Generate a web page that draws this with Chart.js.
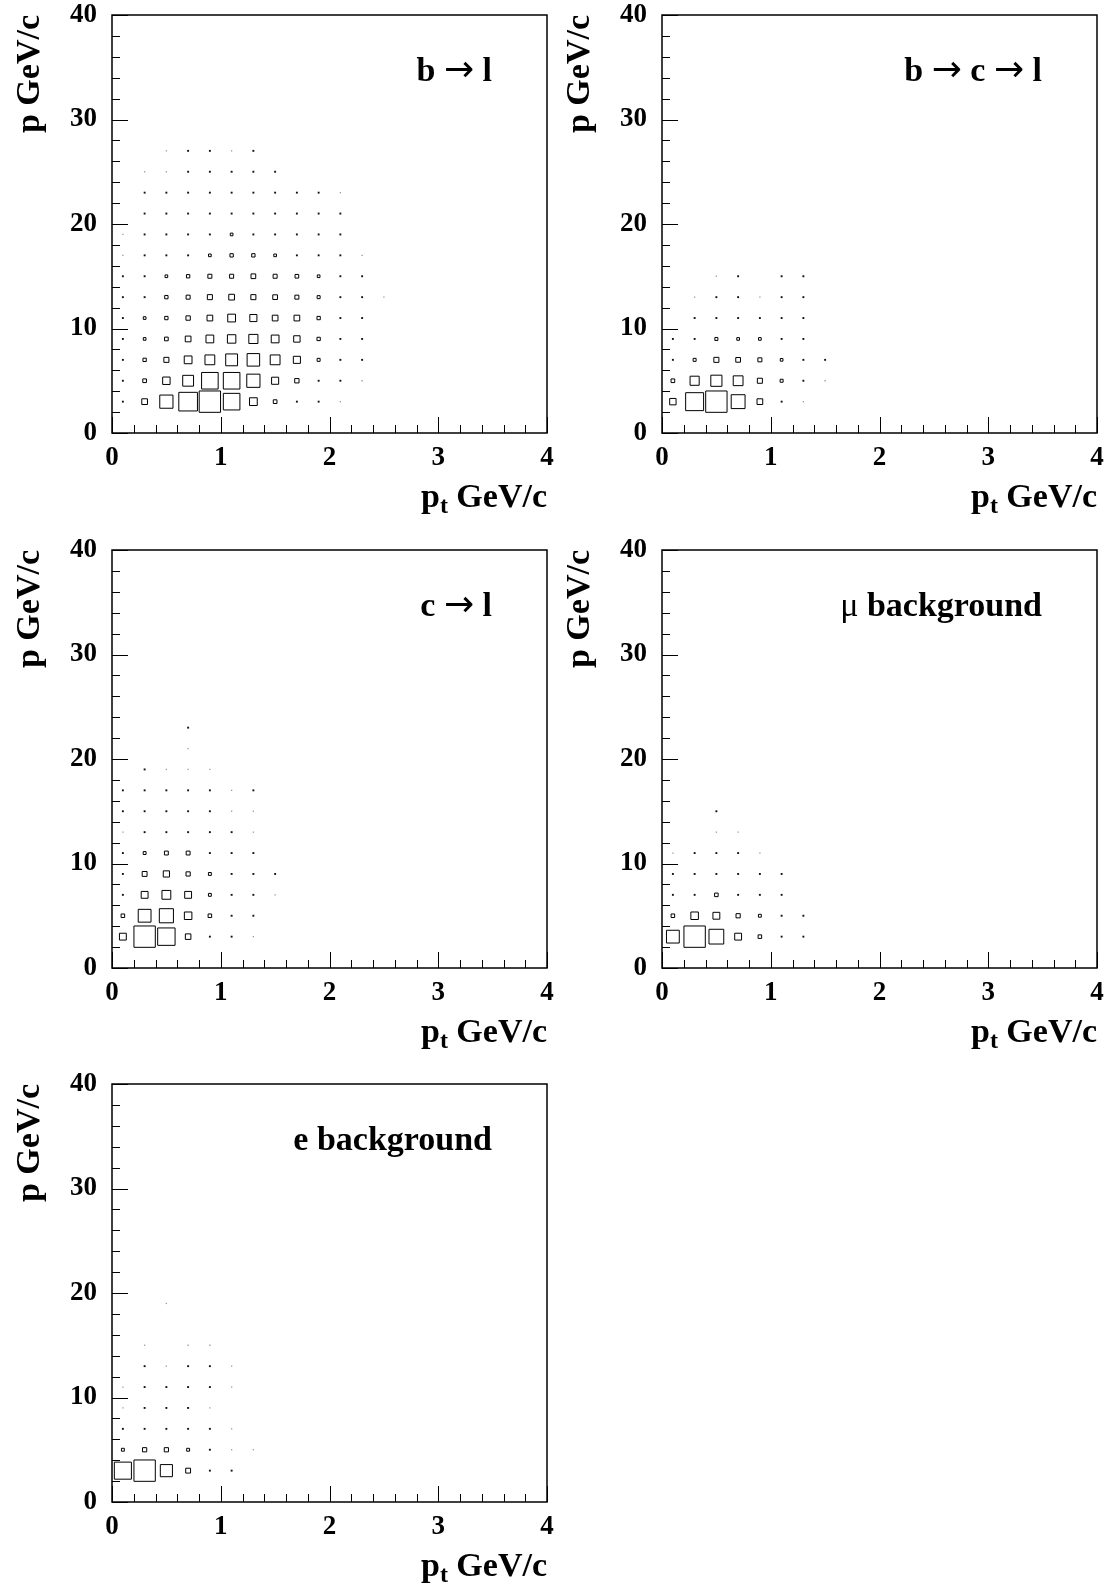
<!DOCTYPE html>
<html>
<head>
<meta charset="utf-8">
<script src="https://cdn.jsdelivr.net/npm/chart.js@4.4.0/dist/chart.umd.min.js"></script>
<style>
  body { margin: 0; background: #fff; width: 1111px; height: 1593px; position: relative; overflow: hidden; }
  canvas { position: absolute; }
</style>
</head>
<body>
<canvas id="c1" width="555" height="523" style="left:0px;top:0px"></canvas>
<canvas id="c2" width="555" height="523" style="left:550px;top:0px"></canvas>
<canvas id="c3" width="555" height="523" style="left:0px;top:535px"></canvas>
<canvas id="c4" width="555" height="523" style="left:550px;top:535px"></canvas>
<canvas id="c5" width="555" height="523" style="left:0px;top:1069px"></canvas>
<script>
// bin centres of the 2D histograms
const PT_CENTERS = [0.1, 0.3, 0.5, 0.7, 0.9, 1.1, 1.3, 1.5, 1.7, 1.9, 2.1, 2.3, 2.5];
const P_CENTERS = [3, 5, 7, 9, 11, 13, 15, 17, 19, 21, 23, 25, 27];
const PT_STEP = 0.2;

// axis ticks
const X_MAJOR = [0, 1, 2, 3, 4];
const X_MINOR_STEP = 0.2;
const Y_MAJOR = [0, 10, 20, 30, 40];
const Y_MINOR_STEP = 2;

// cell contents (relative), one row per p bin starting at p = 3, one column per pt bin
const B_TO_L = [
  [5, 18, 40, 56, 64, 50, 24, 12, 6, 5, 3, 0, 0],
  [5, 12, 23, 33, 50, 50, 40, 22, 14, 6, 4, 3, 0],
  [5, 11, 16, 24, 30, 36, 38, 30, 22, 10, 5, 5, 0],
  [5, 9, 12, 18, 24, 26, 28, 24, 20, 11, 6, 5, 0],
  [5, 9, 11, 14, 18, 24, 22, 18, 18, 11, 6, 5, 0],
  [5, 7, 11, 13, 16, 18, 16, 15, 13, 10, 6, 5, 3],
  [5, 5, 9, 11, 13, 13, 15, 13, 12, 9, 5, 5, 0],
  [3, 5, 6, 8, 9, 11, 11, 9, 8, 8, 5, 3, 0],
  [3, 5, 6, 6, 6, 9, 8, 6, 5, 5, 4, 0, 0],
  [0, 5, 5, 6, 6, 6, 6, 6, 5, 4, 5, 0, 0],
  [0, 5, 5, 5, 5, 5, 5, 4, 4, 4, 3, 0, 0],
  [0, 3, 3, 5, 5, 5, 5, 5, 0, 0, 0, 0, 0],
  [0, 0, 3, 5, 5, 3, 5, 0, 0, 0, 0, 0, 0]
];

const B_TO_C_TO_L = [
  [20, 54, 64, 42, 18, 5, 3, 0],
  [12, 28, 34, 30, 16, 10, 5, 3],
  [5, 10, 16, 15, 13, 9, 5, 4],
  [4, 6, 10, 9, 9, 6, 5, 0],
  [0, 5, 5, 5, 5, 4, 4, 0],
  [0, 3, 5, 5, 3, 5, 5, 0],
  [0, 0, 3, 5, 0, 5, 5, 0]
];

const C_TO_L = [
  [22, 66, 54, 18, 8, 5, 3, 0],
  [12, 40, 44, 24, 12, 5, 5, 0],
  [9, 22, 28, 22, 10, 6, 6, 3],
  [6, 16, 20, 14, 10, 6, 5, 5],
  [6, 10, 13, 13, 6, 6, 5, 0],
  [3, 8, 9, 9, 6, 6, 3, 0],
  [5, 6, 8, 6, 5, 3, 3, 0],
  [5, 5, 5, 5, 5, 3, 5, 0],
  [0, 5, 3, 3, 3, 0, 0, 0],
  [0, 0, 0, 3, 0, 0, 0, 0],
  [0, 0, 0, 5, 0, 0, 0, 0]
];

const MU_BACKGROUND = [
  [40, 66, 46, 22, 12, 5, 5],
  [12, 24, 22, 14, 10, 5, 5],
  [5, 9, 12, 8, 6, 5, 0],
  [5, 6, 7, 5, 5, 5, 0],
  [3, 5, 5, 5, 3, 0, 0],
  [0, 0, 3, 3, 0, 0, 0],
  [0, 0, 5, 0, 0, 0, 0]
];

const E_BACKGROUND = [
  [53, 66, 38, 16, 5, 5, 0],
  [10, 14, 14, 10, 5, 3, 3],
  [5, 9, 6, 6, 5, 3, 0],
  [3, 5, 5, 5, 3, 0, 0],
  [3, 5, 5, 5, 5, 3, 0],
  [0, 5, 3, 5, 5, 3, 0],
  [0, 3, 0, 3, 3, 0, 0],
  [0, 0, 0, 0, 0, 0, 0],
  [0, 0, 3, 0, 0, 0, 0]
];

const SERIF = "'Liberation Serif', 'Times New Roman', serif";
const BOLD = 'bold 34px ' + SERIF;
const THIN = 'normal 34px ' + SERIF;
const ARROW = "normal 36px 'DejaVu Sans', sans-serif";

function cellsFromMatrix(matrix) {
  const cells = [];
  matrix.forEach((row, j) => {
    row.forEach((v, i) => {
      if (v > 0) cells.push({ x: PT_CENTERS[i], y: P_CENTERS[j], v: v });
    });
  });
  return cells;
}

// frame, inner tick marks, x title and the panel label (ROOT look)
const rootFrame = {
  id: 'rootFrame',
  afterDraw(chart, args, opts) {
    const { ctx, chartArea: a, scales: { x, y } } = chart;
    ctx.save();
    ctx.strokeStyle = '#000';
    ctx.lineWidth = 1;
    ctx.beginPath();
    for (let k = 0; k <= Math.round(4 / X_MINOR_STEP); k++) {
      const v = k * X_MINOR_STEP;
      const px = Math.round(x.getPixelForValue(v)) + 0.5;
      const len = X_MAJOR.some(m => Math.abs(m - v) < 1e-6) ? 16 : 8;
      ctx.moveTo(px, a.bottom);
      ctx.lineTo(px, a.bottom - len);
    }
    for (let k = 0; k <= Math.round(40 / Y_MINOR_STEP); k++) {
      const v = k * Y_MINOR_STEP;
      const py = Math.round(y.getPixelForValue(v)) + 0.5;
      const len = Y_MAJOR.includes(v) ? 16 : 8;
      ctx.moveTo(a.left, py);
      ctx.lineTo(a.left + len, py);
    }
    ctx.stroke();
    ctx.lineWidth = 1.5;
    ctx.strokeRect(a.left, a.top, a.right - a.left, a.bottom - a.top);

    // x axis title with subscript
    ctx.fillStyle = '#000';
    ctx.textBaseline = 'alphabetic';
    ctx.textAlign = 'left';
    const big = 'bold 34px ' + SERIF;
    const small = 'bold 24px ' + SERIF;
    ctx.font = big;
    const wP = ctx.measureText('p').width;
    const wRest = ctx.measureText(' GeV/c').width;
    ctx.font = small;
    const wT = ctx.measureText('t').width;
    let tx = a.right - (wP + wT + wRest);
    const base = a.bottom + 74;
    ctx.font = big;
    ctx.fillText('p', tx, base);
    tx += wP;
    ctx.font = small;
    ctx.fillText('t', tx, base + 6);
    tx += wT;
    ctx.font = big;
    ctx.fillText(' GeV/c', tx, base);

    // panel label, right aligned
    let total = 0;
    opts.label.forEach(seg => {
      ctx.font = seg[1];
      total += ctx.measureText(seg[0]).width;
    });
    let lx = a.right - 55 - total;
    opts.label.forEach(seg => {
      ctx.font = seg[1];
      ctx.fillText(seg[0], lx, a.top + 66);
      lx += ctx.measureText(seg[0]).width;
    });
    ctx.restore();
  }
};

function makeChart(canvasId, label, matrix) {
  const cells = cellsFromMatrix(matrix);
  const vmax = Math.max(...cells.map(c => c.v));
  const boxSide = (ctx) => {
    const xs = ctx.chart.scales.x;
    const bw = Math.abs(xs.getPixelForValue(PT_STEP) - xs.getPixelForValue(0));
    return ctx.raw.v / vmax * bw;
  };
  // tiny cells are drawn as filled dots, the rest as open boxes
  const isDot = (ctx) => ctx.raw && boxSide(ctx) < 3;
  return new Chart(document.getElementById(canvasId), {
    type: 'scatter',
    data: {
      datasets: [{
        data: cells,
        pointStyle: 'rect',
        backgroundColor: (ctx) => {
          if (!isDot(ctx)) return 'rgba(0,0,0,0)';
          return ctx.raw.v <= 3 ? '#999' : '#111';
        },
        borderWidth: (ctx) => (isDot(ctx) ? 0 : 1),
        borderColor: '#000',
        pointRadius: (ctx) => {
          if (!ctx.raw) return 1;
          const s = boxSide(ctx);
          if (s < 3) return (ctx.raw.v <= 3 ? 1.3 : 1.9) / Math.SQRT2;
          return (s - 0.4) / Math.SQRT2;
        }
      }]
    },
    options: {
      responsive: false,
      animation: false,
      devicePixelRatio: 1,
      events: [],
      layout: { padding: { top: 15, right: 8, left: 0, bottom: 0 } },
      plugins: {
        legend: { display: false },
        tooltip: { enabled: false },
        rootFrame: { label: label }
      },
      scales: {
        x: {
          type: 'linear',
          min: 0,
          max: 4,
          grid: { display: false, drawTicks: false },
          border: { display: false },
          ticks: {
            stepSize: 1,
            padding: 9,
            color: '#000',
            font: { family: SERIF, size: 27, weight: 'bold' }
          },
          afterFit: (s) => {
            s.height = 90;
            s.paddingLeft = 0;
            s.paddingRight = 0;
          }
        },
        y: {
          type: 'linear',
          min: 0,
          max: 40,
          grid: { display: false, drawTicks: false },
          border: { display: false },
          ticks: {
            stepSize: 10,
            padding: 15,
            color: '#000',
            font: { family: SERIF, size: 27, weight: 'bold' }
          },
          title: {
            display: true,
            text: 'p GeV/c',
            align: 'end',
            color: '#000',
            font: { family: SERIF, size: 34, weight: 'bold' },
            padding: { top: 10, bottom: 0 }
          },
          afterFit: (s) => {
            s.width = 112;
            s.paddingTop = 0;
            s.paddingBottom = 0;
          }
        }
      }
    },
    plugins: [rootFrame]
  });
}

makeChart('c1', [['b ', BOLD], ['\u2192', ARROW], [' l', BOLD]], B_TO_L);
makeChart('c2', [['b ', BOLD], ['\u2192', ARROW], [' c ', BOLD], ['\u2192', ARROW], [' l', BOLD]], B_TO_C_TO_L);
makeChart('c3', [['c ', BOLD], ['\u2192', ARROW], [' l', BOLD]], C_TO_L);
makeChart('c4', [['\u03bc', THIN], [' background', BOLD]], MU_BACKGROUND);
makeChart('c5', [['e background', BOLD]], E_BACKGROUND);
</script>
</body>
</html>
